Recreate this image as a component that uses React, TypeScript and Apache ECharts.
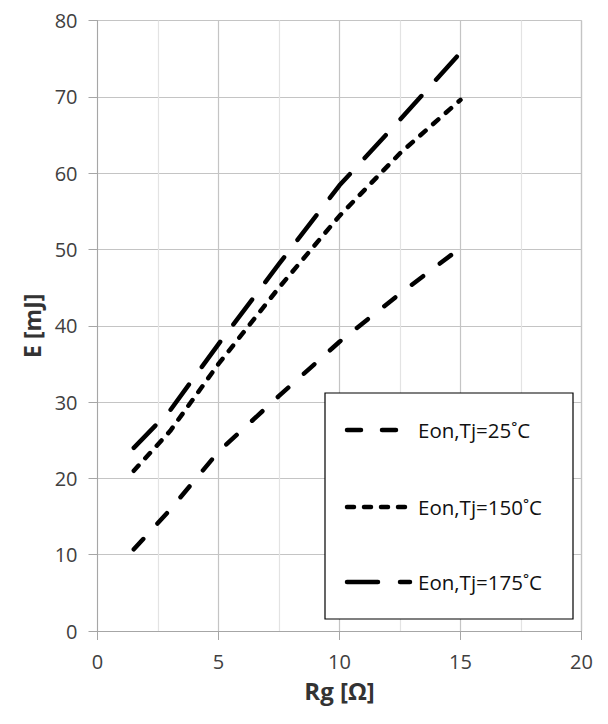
import React, { useEffect, useRef } from "react";
import * as echarts from "echarts";

const rgValues = [1.5, 3, 5, 7.5, 10, 12.5, 15];
const eon25 = [10.7, 15.9, 23.5, 30.8, 37.9, 44.2, 50.2];
const eon150 = [21.0, 26.2, 35.0, 45.0, 54.4, 62.6, 69.6];
const eon175 = [24.0, 28.9, 37.6, 48.1, 58.4, 67.0, 75.8];
const seriesNames = ["Eon,Tj=25˚C", "Eon,Tj=150˚C", "Eon,Tj=175˚C"];
const xTicks = [0, 5, 10, 15, 20];
const yTicks = [0, 10, 20, 30, 40, 50, 60, 70, 80];

const FONT = "'Open Sans', 'Noto Sans', sans-serif";

export default function App() {
  const ref = useRef<HTMLDivElement>(null);
  useEffect(() => {
    if (!ref.current) return;
    const chart = echarts.init(ref.current, undefined, { renderer: "svg" });
    const pair = (ys: number[]) => rgValues.map((x, i) => [x, ys[i]]);
    const dashes = [
      [14, 21],
      [7, 10],
      [31, 22],
    ];
    const data = [eon25, eon150, eon175];
    const legendY = [430, 507, 582];
    const legendItems: any[] = [];
    seriesNames.forEach((name, i) => {
      legendItems.push({
        type: "line",
        z: 5,
        shape: { x1: 347, y1: legendY[i], x2: 410, y2: legendY[i] },
        style: { stroke: "#000000", lineWidth: 4.5, lineDash: dashes[i], lineCap: "round" },
      });
      legendItems.push({
        type: "text",
        z: 5,
        x: 418,
        y: legendY[i],
        style: {
          text: name,
          fontSize: 20.5,
          fontFamily: FONT,
          fill: "#111111",
          verticalAlign: "middle",
          align: "left",
        },
      });
    });
    chart.setOption({
      animation: false,
      backgroundColor: "#ffffff",
      textStyle: { fontFamily: FONT },
      grid: { left: 97.5, right: 26.5, top: 20.5, bottom: 93, containLabel: false },
      xAxis: {
        type: "value",
        min: xTicks[0],
        max: xTicks[xTicks.length - 1],
        interval: 5,
        name: "Rg [Ω]",
        nameLocation: "middle",
        nameGap: 47,
        nameTextStyle: { fontSize: 24, fontWeight: "bold", color: "#333333", fontFamily: FONT },
        axisLine: { show: true, lineStyle: { color: "#a6a6a6", width: 1 } },
        axisTick: { show: true, length: 9, lineStyle: { color: "#a6a6a6" } },
        axisLabel: { fontSize: 20, color: "#404040", margin: 20, fontFamily: FONT },
        splitLine: { show: true, lineStyle: { color: "#c4c4c4", width: 1.2 } },
        minorTick: { show: false, splitNumber: 2 },
        minorSplitLine: { show: true, lineStyle: { color: "#e3e3e3", width: 1.2 } },
      },
      yAxis: {
        type: "value",
        min: yTicks[0],
        max: yTicks[yTicks.length - 1],
        interval: 10,
        name: "E [mJ]",
        nameLocation: "middle",
        nameRotate: 90,
        nameGap: 53,
        nameTextStyle: { fontSize: 23, fontWeight: "bold", color: "#333333", fontFamily: FONT },
        axisLine: { show: true, lineStyle: { color: "#a6a6a6", width: 1 } },
        axisTick: { show: true, length: 9, lineStyle: { color: "#a6a6a6" } },
        axisLabel: { fontSize: 20, color: "#404040", margin: 20, fontFamily: FONT },
        splitLine: { show: true, lineStyle: { color: "#c4c4c4", width: 1.2 } },
      },
      graphic: [
        {
          type: "rect",
          z: 3,
          shape: { x: 325, y: 393, width: 248, height: 226 },
          style: { fill: "#ffffff", stroke: "#000000", lineWidth: 1.2 },
        },
        {
          type: "line",
          z: 3,
          shape: { x1: 581.5, y1: 20.5, x2: 581.5, y2: 631 },
          style: { stroke: "#c4c4c4", lineWidth: 1.2 },
        },
        ...legendItems,
      ],
      series: seriesNames.map((name, i) => ({
        name,
        type: "line",
        data: pair(data[i]),
        showSymbol: false,
        symbol: "none",
        smooth: false,
        z: 2,
        lineStyle: { color: "#000000", width: 4.5, type: dashes[i], cap: "round", join: "round" },
        itemStyle: { color: "#000000" },
      })),
    });
    return () => chart.dispose();
  }, []);
  return (
    <div
      ref={ref}
      style={{ position: "absolute", left: 0, top: 0, width: 608, height: 724 }}
    />
  );
}
